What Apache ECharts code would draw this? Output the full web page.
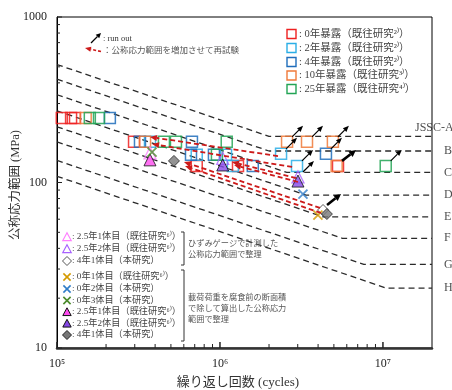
<!DOCTYPE html>
<html><head><meta charset="utf-8">
<script src="https://cdn.jsdelivr.net/npm/echarts@6/dist/echarts.min.js"></script>
<style>html,body{margin:0;padding:0;background:#fff}#c{width:452px;height:390px}</style>
</head><body><div id="c"></div>
<script>
// ---------- data ----------
const nMin = 1e5, nMax = 2e7, sMin = 10, sMax = 1000;
const jsscNames  = ['JSSC-A','B','C','D','E','F','G','H'];
const jsscStartS = [516, 421, 339, 271, 217, 176, 136, 109];        // at N = 1e5
const jsscKinkN  = [2e6, 2e6, 2.57e6, 3.37e6, 4.3e6, 5.64e6, 7.63e6, 1.05e7];
const jsscCutoff = [190, 155, 115, 84, 62, 46, 32, 23];

const sq0  = [[1.07e5,245],[1.22e5,245],[1.29e5,245],[2.97e5,176],[7.2e5,126],[1.29e6,126],[5.3e6,126]];
const sq2  = [[3.72e5,176],[7.2e5,147],[1.09e6,147],[1.2e6,126],[2.37e6,149],[2.97e6,126]];
const sq4  = [[2.11e5,245],[3.23e5,176],[6.73e5,176],[6.64e5,147],[9.18e5,147],[1.59e6,126],[4.47e6,149]];
const sq10 = [[1.5e5,245],[3.47e5,176],[2.58e6,176],[3.42e6,176],[4.93e6,176],[5.2e6,126]];
const sq25 = [[1.59e5,245],[1.81e5,245],[4.53e5,176],[5.37e5,176],[1.1e6,176],[9.58e5,147],[1.04e7,126]];

const triHollowPink   = [[3.72e5,151]];
const triHollowPurple = [[1.04e6,140],[3.01e6,108]];
const triFilledPink   = [[3.72e5,137]];
const triFilledPurple = [[1.04e6,127.6],[3.01e6,102]];
const diaHollow = [[4.29e6,68.2]];
const diaFilled = [[5.22e5,135],[4.53e6,64.5]];
const xYellow = [[3.99e6,63.6]];
const xBlue   = [[3.23e6,85.1]];
const xGreen  = [[3.83e5,152.8]];

const runoutN    = [2.58e6,3.42e6,4.93e6,2.37e6,2.97e6,4.47e6,5.3e6,1.04e7,3.01e6,4.29e6];
const runoutS    = [176,176,176,149,126,149,126,126,108,68.2];
const runoutBold = [0,0,0,0,0,0,1,0,0,1];

const retestFromN = [2.27e6,2.77e6,2.93e6,3.01e6,4.11e6,4.17e6];
const retestFromS = [144.5,124.1,106.4,100.7,70.2,65.4];
const retestToN   = [3.72e5,3.83e5,1.185e6,1.22e6,6.01e5,6.10e5];
const retestToS   = [188.4,170.9,133.2,127.6,133.2,125.8];

const yTickMajor = [10,100,1000];
const yTickMinor = [20,30,40,50,60,70,80,90,200,300,400,500,600,700,800,900];
const xTickMajor = [1e5,1e6,1e7];
const xTickMinor = [2e5,3e5,4e5,5e5,6e5,7e5,8e5,9e5,2e6,3e6,4e6,5e6,6e6,7e6,8e6,9e6];

const legendSquares = ['0年暴露（既往研究²⁾）','2年暴露（既往研究²⁾）','4年暴露（既往研究²⁾）','10年暴露（既往研究³⁾）','25年暴露（既往研究⁴⁾）'];
const legendSpec = ['2.5年1体目（既往研究⁶⁾）','2.5年2体目（既往研究⁶⁾）','4年1体目（本研究）',
  '0年1体目（既往研究⁶⁾）','0年2体目（本研究）','0年3体目（本研究）',
  '2.5年1体目（既往研究⁶⁾）','2.5年2体目（既往研究⁶⁾）','4年1体目（本研究）'];
const bracket1 = ['ひずみゲージで計測した','公称応力範囲で整理'];
const bracket2 = ['載荷荷重を腐食前の断面積','で除して算出した公称応力','範囲で整理'];

// ---------- style ----------
const SERIF = "'Liberation Serif','Noto Sans CJK JP',serif";
const C = {red:'#ee2020', cyan:'#2aaee6', blue:'#1f6dbb', orange:'#f07a3a', green:'#22a455',
  pink:'#ff4cf0', pinkL:'#ff80ff', purple:'#8648e6', purpleL:'#a861ff', gray:'#777',
  yellow:'#d49a00', xblue:'#2f7cc8', xgreen:'#4a8a2a', dred:'#cc1a1a'};

function arrowShapes(x1,y1,x2,y2,color,lw,dash,headL,headW){
  const dx=x2-x1, dy=y2-y1, d=Math.hypot(dx,dy)||1, ux=dx/d, uy=dy/d, nx=-uy, ny=ux;
  const bx=x2-ux*headL, by=y2-uy*headL;
  return [
    {type:'line', shape:{x1:x1,y1:y1,x2:bx,y2:by}, style:{stroke:color,lineWidth:lw,lineDash:dash||null,fill:null}},
    {type:'polygon', shape:{points:[[x2,y2],[bx+nx*headW/2,by+ny*headW/2],[bx-nx*headW/2,by-ny*headW/2]]}, style:{fill:color,stroke:null}}
  ];
}

const series = [];
// JSSC design curves
jsscNames.forEach((n,i)=>{
  series.push({type:'line', silent:true, showSymbol:false, z:2,
    data:[[nMin,jsscStartS[i]],[jsscKinkN[i],jsscCutoff[i]],[nMax,jsscCutoff[i]]],
    lineStyle:{color:'#2a2a2a', width:1.3, type:[6,4]}});
});
series.push({type:'scatter', silent:true, symbolSize:0, z:2,
  data: jsscNames.map((n,i)=>({name:n, value:[nMax,jsscCutoff[i]], label: i===0?{offset:[-29,-9]}:{}})),
  label:{show:true, position:'right', distance:12, formatter:'{b}', fontFamily:SERIF, fontSize:12, color:'#222'}});

function sqSeries(data,color){ return {type:'scatter', silent:true, data, symbol:'rect', symbolSize:11, z:3,
  itemStyle:{color:'rgba(255,255,255,0)', borderColor:color, borderWidth:1.5, opacity:0.85}}; }
series.push(sqSeries(sq0,C.red), sqSeries(sq2,C.cyan), sqSeries(sq4,C.blue), sqSeries(sq10,C.orange), sqSeries(sq25,C.green));

function mk(data,symbol,size,fill,stroke,bw,z){ return {type:'scatter', silent:true, data, symbol, symbolSize:size, z:z||5,
  itemStyle:{color:fill, borderColor:stroke, borderWidth:bw}}; }
const XPATH = 'path://M0,0L10,10M10,0L0,10';
series.push(
  mk(triHollowPink,'triangle',[12,12],'rgba(255,255,255,0)',C.pinkL,1.3,4),
  mk(triHollowPurple,'triangle',[12,12],'rgba(255,255,255,0)',C.purpleL,1.3,4),
  mk(diaHollow,'diamond',[11,11],'#fff','#333',1,4),
  mk(triFilledPink,'triangle',[12,12],C.pink,'#111',1,6),
  mk(triFilledPurple,'triangle',[12,12],C.purple,'#111',1,6),
  mk(diaFilled,'diamond',[11,11],C.gray,'#222',1,6),
  mk(xYellow,XPATH,[9,9],'none',C.yellow,1.8,6),
  mk(xBlue,XPATH,[9,9],'none',C.xblue,1.8,6),
  mk(xGreen,XPATH,[9,9],'none',C.xgreen,1.8,6)
);

// run-out arrows
series.push({type:'custom', silent:true, z:8,
  data: runoutN.map((n,i)=>[n,runoutS[i],runoutBold[i]]),
  encode:{x:0,y:1},
  renderItem:(params,api)=>{
    const p = api.coord([api.value(0),api.value(1)]);
    const b = api.value(2);
    const ch = b ? arrowShapes(p[0]+4,p[1]-5,p[0]+18,p[1]-16,'#000',2.6,null,7,7)
                 : arrowShapes(p[0]+5,p[1]-5,p[0]+16,p[1]-16,'#000',1.2,null,6,5);
    return {type:'group', children:ch};
  }});

// retest arrows (red dashed)
series.push({type:'custom', silent:true, z:9,
  data: retestFromN.map((n,i)=>[n,retestFromS[i],retestToN[i],retestToS[i]]),
  encode:{x:[0,2],y:[1,3]},
  renderItem:(params,api)=>{
    const a = api.coord([api.value(0),api.value(1)]);
    const b = api.coord([api.value(2),api.value(3)]);
    return {type:'group', children:arrowShapes(a[0],a[1],b[0],b[1],C.dred,1.8,[5,3],7,6)};
  }});

// ticks
series.push({type:'custom', silent:true, z:10,
  data: xTickMajor.map(v=>[v,sMin,1]).concat(xTickMinor.map(v=>[v,sMin,0])),
  encode:{x:0,y:1},
  renderItem:(params,api)=>{
    const p = api.coord([api.value(0),api.value(1)]);
    const len = api.value(2)?6:4;
    return {type:'line', shape:{x1:p[0],y1:p[1],x2:p[0],y2:p[1]-len}, style:{stroke:'#222',lineWidth:api.value(2)?1.5:1}};
  }});
series.push({type:'custom', silent:true, z:10,
  data: yTickMajor.map(v=>[nMin,v,1]).concat(yTickMinor.map(v=>[nMin,v,0])),
  encode:{x:0,y:1},
  renderItem:(params,api)=>{
    const p = api.coord([api.value(0),api.value(1)]);
    const len = api.value(2)?5:3;
    return {type:'line', shape:{x1:p[0],y1:p[1],x2:p[0]+len,y2:p[1]}, style:{stroke:'#222',lineWidth:1}};
  }});

// ---------- graphic legends ----------
const g = [];
function txt(x,y,t,size,color,extra){ g.push(Object.assign({type:'text', x, y, silent:true, z:20,
  style:{text:t, font:size+'px '+SERIF, fill:color||'#444', align:'left', verticalAlign:'middle', textAlign:'left', textVerticalAlign:'middle'}}, extra||{})); }
function addShapes(arr){ arr.forEach(s=>{ s.z=20; s.silent=true; g.push(s); }); }

// top-left legend
addShapes(arrowShapes(91,43,101,33,'#000',1.2,null,5,5));
txt(103,38.5,': run out',8.5,'#333');
addShapes(arrowShapes(101,51.5,85,48,C.dred,1.6,[3,2],6,5));
txt(103,50.5,'：公称応力範囲を増加させて再試験',8.5,'#555');

// top-right legend
const sqCols = [C.red,C.cyan,C.blue,C.orange,C.green];
const sqY = [34,48,62,75.5,89];
legendSquares.forEach((t,i)=>{
  g.push({type:'rect', z:20, silent:true, shape:{x:287,y:sqY[i]-4.5,width:9,height:9}, style:{fill:'none',stroke:sqCols[i],lineWidth:1.4}});
  txt(299,sqY[i],': '+t,10.5,'#444');
});

// bottom-left legend
const rowY = [237,249,261,277,289,300.5,312,323.5,335];
const mx = 67;
function tri(y,fill,stroke,lw){ const s=4.2; g.push({type:'polygon', z:20, silent:true, shape:{points:[[mx,y-s],[mx+s,y+s*0.85],[mx-s,y+s*0.85]]}, style:{fill:fill,stroke:stroke,lineWidth:lw}}); }
function dia(y,fill,stroke){ const s=4.5; g.push({type:'polygon', z:20, silent:true, shape:{points:[[mx,y-s],[mx+s,y],[mx,y+s],[mx-s,y]]}, style:{fill:fill,stroke:stroke,lineWidth:1}}); }
function xm(y,color){ const s=3.6; g.push({type:'polyline', z:20, silent:true, shape:{points:[[mx-s,y-s],[mx+s,y+s]]}, style:{stroke:color,lineWidth:1.6,fill:null}});
  g.push({type:'polyline', z:20, silent:true, shape:{points:[[mx+s,y-s],[mx-s,y+s]]}, style:{stroke:color,lineWidth:1.6,fill:null}}); }
tri(rowY[0],'none',C.pinkL,1.2);
tri(rowY[1],'none',C.purpleL,1.2);
dia(rowY[2],'#fff','#555');
xm(rowY[3],C.yellow); xm(rowY[4],C.xblue); xm(rowY[5],C.xgreen);
tri(rowY[6],C.pink,'#111',1); tri(rowY[7],C.purple,'#111',1);
dia(rowY[8],C.gray,'#222');
legendSpec.forEach((t,i)=>txt(72,rowY[i],': '+t,9.2,'#444'));

// brackets
function bracket(x,y1,y2){ g.push({type:'polyline', z:20, silent:true, shape:{points:[[x-3,y1],[x,y1],[x,y2],[x-3,y2]]}, style:{stroke:'#333',lineWidth:1,fill:null}}); }
bracket(184,232,265);
bracket(184,270,341);
bracket1.forEach((t,i)=>txt(188,244+i*11,t,8.2,'#555'));
bracket2.forEach((t,i)=>txt(188,298+i*11,t,8.2,'#555'));

// axis names
g.push({type:'text', x:16, y:185, rotation:Math.PI/2, silent:true, z:20,
  style:{text:'公称応力範囲 (MPa)', font:'12.5px '+SERIF, fill:'#333', align:'center', verticalAlign:'middle', textAlign:'center', textVerticalAlign:'middle'}});
g.push({type:'text', x:238, y:383, silent:true, z:20,
  style:{text:'繰り返し回数 (cycles)', font:'13px '+SERIF, fill:'#333', align:'center', verticalAlign:'middle', textAlign:'center', textVerticalAlign:'middle'}});

const SUP = {5:'⁵',6:'⁶',7:'⁷'};
const option = {
  animation:false,
  backgroundColor:'#fff',
  grid:{left:57, top:17, right:20, bottom:42, show:true, borderColor:'#000', borderWidth:1, backgroundColor:'transparent'},
  xAxis:{type:'log', logBase:10, min:nMin, max:nMax,
    axisLine:{show:true, lineStyle:{color:'#333', width:2.5}},
    axisTick:{show:false}, splitLine:{show:false}, minorTick:{show:false},
    axisLabel:{margin:10, fontFamily:SERIF, fontSize:12, color:'#222',
      formatter:v=>{ const e=Math.log10(v); const r=Math.round(e); return Math.abs(e-r)<1e-6 ? '10'+SUP[r] : ''; }}},
  yAxis:{type:'log', logBase:10, min:sMin, max:sMax,
    axisLine:{show:true, lineStyle:{color:'#000', width:1}},
    axisTick:{show:false}, splitLine:{show:false}, minorTick:{show:false},
    axisLabel:{margin:10, fontFamily:SERIF, fontSize:12, color:'#222',
      formatter:v=>{ const e=Math.log10(v); const r=Math.round(e); return Math.abs(e-r)<1e-6 ? String(Math.round(v)) : ''; }}},
  series,
  graphic:{elements:g}
};
const chart = echarts.init(document.getElementById('c'));
chart.setOption(option);
</script></body></html>
